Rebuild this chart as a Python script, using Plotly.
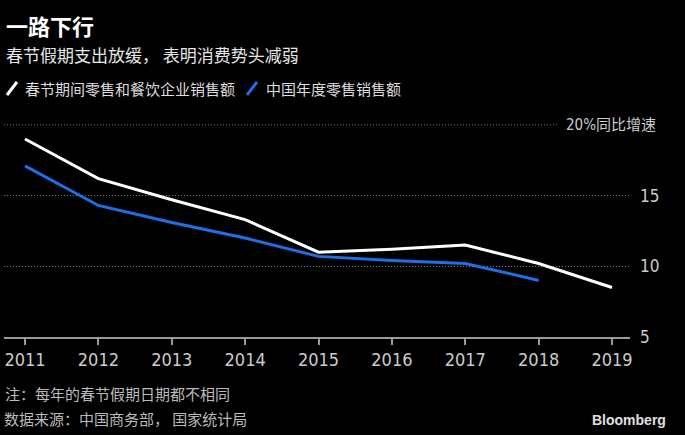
import plotly.graph_objects as go

# ---- data ----
years = [2011, 2012, 2013, 2014, 2015, 2016, 2017, 2018, 2019]
holiday_sales = [19.0, 16.2, 14.7, 13.3, 11.0, 11.2, 11.5, 10.2, 8.5]
retail_years = [2011, 2012, 2013, 2014, 2015, 2016, 2017, 2018]
retail_sales = [17.1, 14.3, 13.1, 12.0, 10.7, 10.4, 10.2, 9.0]
y_tick_vals = [5, 10, 15]
y_tick_text = ["5", "10", "15"]
top_tick_val = 20
top_tick_label = "20%同比增速"

name_holiday = "春节期间零售和餐饮企业销售额"
name_retail = "中国年度零售销售额"
title = "一路下行"
subtitle = "春节假期支出放缓， 表明消费势头减弱"
note = "注：每年的春节假期日期都不相同"
source = "数据来源：中国商务部， 国家统计局"

W, H = 685, 435
ML, MR, MT, MB = 4, 55, 122, 98
PW = W - ML - MR
PH = H - MT - MB

def px_x(p):
    return (p - ML) / PW

def px_y(p):
    return (H - MB - p) / PH

CJK = "Noto Sans CJK SC, Noto Sans, sans-serif"
NARROW = "Liberation Sans Narrow, Arial Narrow, DejaVu Sans Condensed, sans-serif"
WHITE = "#ffffff"
BLUE = "#1e6fe6"
GRID = "#777777"

fig = go.Figure()
fig.add_trace(go.Scatter(x=years, y=holiday_sales, mode="lines",
                         line=dict(color=WHITE, width=3), showlegend=False,
                         name=name_holiday))
fig.add_trace(go.Scatter(x=retail_years, y=retail_sales, mode="lines",
                         line=dict(color=BLUE, width=3), showlegend=False,
                         name=name_retail))

fig.update_layout(
    width=W, height=H,
    margin=dict(l=ML, r=MR, t=MT, b=MB, pad=0, autoexpand=False),
    paper_bgcolor="#000000", plot_bgcolor="#000000",
    showlegend=False,
    xaxis=dict(range=[2010.714, 2019.245], tickvals=years,
               ticktext=[str(y) for y in years],
               showgrid=False, zeroline=False, automargin=False,
               showline=True, linecolor="#9a9a9a", linewidth=1.5,
               ticks="outside", ticklen=6, tickwidth=1.5, tickcolor="#9a9a9a",
               tickfont=dict(family=NARROW, size=18, color="#cccccc")),
    yaxis=dict(range=[5, 20.2], side="right", tickvals=y_tick_vals,
               ticktext=y_tick_text, ticks="", showline=False, zeroline=False,
               automargin=False,
               showgrid=True, gridcolor=GRID, gridwidth=1, griddash="1px,2px",
               ticklabelstandoff=9,
               tickfont=dict(family=NARROW, size=17, color="#cccccc")),
    hovermode=False,
)

# top gridline (shortened to make room for its label)
fig.add_shape(type="line", xref="paper", yref="y", x0=0, x1=px_x(559),
              y0=top_tick_val, y1=top_tick_val,
              line=dict(color=GRID, width=1, dash="1px,2px"))
fig.add_annotation(xref="paper", yref="y", x=px_x(658), y=top_tick_val,
                   xanchor="right", yanchor="middle", showarrow=False,
                   text=top_tick_label,
                   font=dict(family="Liberation Sans Narrow, DejaVu Sans Condensed, Noto Sans CJK SC, sans-serif",
                             size=15, color="#cccccc"))

def txt(text, x, y, size, color, family=CJK, xanchor="left", bold=False):
    fig.add_annotation(xref="paper", yref="paper", x=px_x(x), y=px_y(y),
                       xanchor=xanchor, yanchor="middle", showarrow=False,
                       text=("<b>%s</b>" % text) if bold else text,
                       font=dict(family=family, size=size, color=color))

# legend (slanted line icons + labels)
for nm, col, ix, tx in [(name_holiday, WHITE, 7, 23), (name_retail, BLUE, 247, 264)]:
    fig.add_shape(type="line", xref="paper", yref="paper",
                  x0=px_x(ix), y0=px_y(95), x1=px_x(ix + 10), y1=px_y(82),
                  line=dict(color=col, width=3))
    txt(nm, tx, 88, 15, "#dddddd")

txt(title, 4, 25, 22, "#ffffff", bold=True)
txt(subtitle, 4, 55, 17, "#e6e6e6")
txt(note, 3, 393, 15, "#bbbbbb")
txt(source, 2, 418, 15, "#bbbbbb")
txt("Bloomberg", 668, 420, 14, "#e0e0e0",
    family="Liberation Sans, Arial, sans-serif", xanchor="right", bold=True)

fig.write_html("out.html", config={"displayModeBar": False},
               post_script="document.body.style.margin='0px';"
                           "document.body.style.background='#000';")
